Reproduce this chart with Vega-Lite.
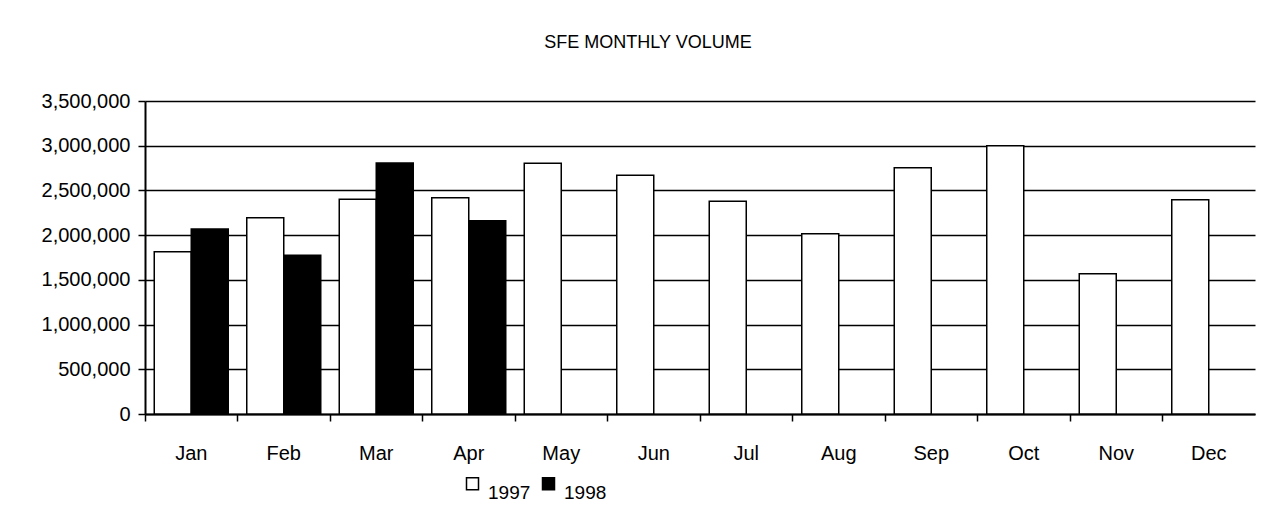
{
  "$schema": "https://vega.github.io/schema/vega-lite/v6.json",
  "width": 1110,
  "height": 313,
  "autosize": {"type": "none"},
  "padding": {"left": 145, "top": 101, "right": 18, "bottom": 97},
  "background": "white",
  "title": {
    "text": "SFE MONTHLY VOLUME",
    "font": "Liberation Sans",
    "fontSize": 18,
    "fontWeight": "normal",
    "color": "black",
    "anchor": "middle",
    "frame": "bounds",
    "offset": 39
  },
  "data": {
    "values": [
      {"month": "Jan", "year": "1997", "volume": 1815000},
      {"month": "Jan", "year": "1998", "volume": 2069000},
      {"month": "Feb", "year": "1997", "volume": 2195000},
      {"month": "Feb", "year": "1998", "volume": 1774000},
      {"month": "Mar", "year": "1997", "volume": 2400000},
      {"month": "Mar", "year": "1998", "volume": 2807000},
      {"month": "Apr", "year": "1997", "volume": 2419000},
      {"month": "Apr", "year": "1998", "volume": 2162000},
      {"month": "May", "year": "1997", "volume": 2803000},
      {"month": "Jun", "year": "1997", "volume": 2669000},
      {"month": "Jul", "year": "1997", "volume": 2378000},
      {"month": "Aug", "year": "1997", "volume": 2016000},
      {"month": "Sep", "year": "1997", "volume": 2754000},
      {"month": "Oct", "year": "1997", "volume": 3000000},
      {"month": "Nov", "year": "1997", "volume": 1569000},
      {"month": "Dec", "year": "1997", "volume": 2397000}
    ]
  },
  "mark": {"type": "bar", "stroke": "black", "strokeWidth": 1.5},
  "encoding": {
    "x": {
      "field": "month",
      "type": "nominal",
      "sort": ["Jan","Feb","Mar","Apr","May","Jun","Jul","Aug","Sep","Oct","Nov","Dec"],
      "scale": {"paddingInner": 0, "paddingOuter": 0},
      "axis": {
        "title": null,
        "labelAngle": 0,
        "bandPosition": 0,
        "labelFont": "Liberation Sans",
        "labelFontSize": 20,
        "labelColor": "black",
        "labelPadding": 22,
        "tickColor": "black",
        "tickWidth": 1.5,
        "tickSize": 7,
        "domainColor": "black",
        "domainWidth": 2,
        "grid": false
      }
    },
    "xOffset": {
      "field": "year",
      "type": "nominal",
      "scale": {"domain": ["1997", "1998"], "paddingInner": 0, "paddingOuter": 0.25}
    },
    "y": {
      "field": "volume",
      "type": "quantitative",
      "scale": {"domain": [0, 3500000], "nice": false},
      "axis": {
        "title": null,
        "values": [0, 500000, 1000000, 1500000, 2000000, 2500000, 3000000, 3500000],
        "format": ",d",
        "labelFont": "Liberation Sans",
        "labelFontSize": 20,
        "labelColor": "black",
        "labelPadding": 8,
        "tickColor": "black",
        "tickWidth": 1.5,
        "tickSize": 7,
        "domainColor": "black",
        "domainWidth": 2,
        "grid": true,
        "gridColor": "black",
        "gridWidth": 1.5,
        "gridOpacity": 1
      }
    },
    "fill": {
      "field": "year",
      "type": "nominal",
      "scale": {"domain": ["1997", "1998"], "range": ["white", "black"]},
      "legend": {
        "title": null,
        "orient": "none",
        "direction": "horizontal",
        "legendX": 318,
        "legendY": 373,
        "padding": 0,
        "symbolType": "square",
        "symbolSize": 144,
        "symbolStrokeColor": "black",
        "symbolStrokeWidth": 1.5,
        "symbolOpacity": 1,
        "labelFont": "Liberation Sans",
        "labelFontSize": 19,
        "labelColor": "black",
        "labelBaseline": "top",
        "labelOffset": 6,
        "columnPadding": 8
      }
    }
  },
  "config": {
    "view": {"stroke": null}
  }
}
